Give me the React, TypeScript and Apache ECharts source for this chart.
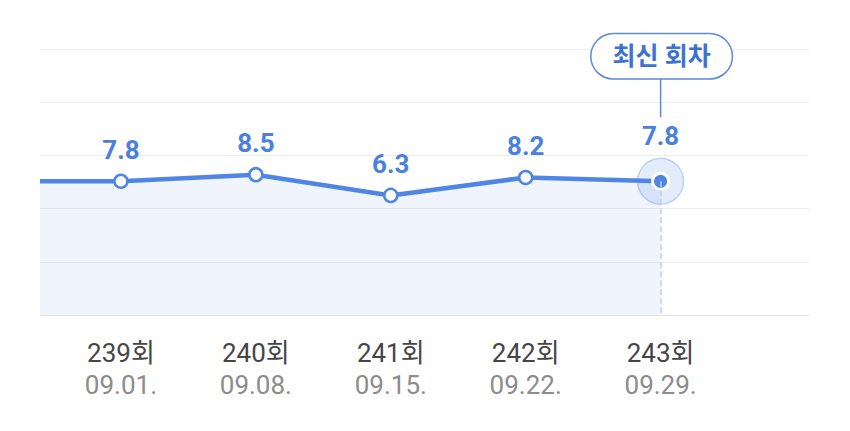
import React, { useEffect, useRef } from "react";
import * as echarts from "echarts";

const rounds = ["238회", "239회", "240회", "241회", "242회", "243회"];
const dates = ["08.25.", "09.01.", "09.08.", "09.15.", "09.22.", "09.29."];
const ratings = [7.8, 7.8, 8.5, 6.3, 8.2, 7.8];
const latestLabel = "최신 회차";

const BLUE = "#4f86e3";
const FONT = "Roboto, 'Noto Sans CJK KR', sans-serif";

export default function App() {
  const ref = useRef<HTMLDivElement>(null);
  useEffect(() => {
    if (!ref.current) return;
    const chart = echarts.init(ref.current, null, { renderer: "svg" });
    const lastIdx = ratings.length - 1;
    const xOf = (i: number) => i - 1;
    const data = ratings.map((v, i) => {
      const item: any = { value: [xOf(i), v] };
      if (i === lastIdx) {
        item.symbolSize = 16;
        item.itemStyle = { color: BLUE, borderColor: "#fff", borderWidth: 3 };
        item.label = { distance: 23 };
      }
      return item;
    });
    const labelValues = rounds.map((_, i) => xOf(i)).filter((v) => v >= 0);
    chart.setOption({
      animation: false,
      textStyle: { fontFamily: FONT },
      grid: { left: 40, right: 41, top: 49, bottom: 116 },
      graphic: [
        {
          type: "rect",
          left: 0,
          top: 0,
          shape: { width: 40, height: 330 },
          style: { fill: "#fff" },
          z: 100,
          silent: true,
        },
      ],
      xAxis: {
        type: "value",
        min: -0.6,
        max: 5.1,
        axisLine: { show: true, onZero: false, lineStyle: { color: "#e4e4e4", width: 1 } },
        axisTick: { show: false },
        splitLine: { show: false },
        axisLabel: {
          customValues: labelValues,
          margin: 22,
          formatter: (v: number) => `{r|${rounds[v + 1]}}\n{d|${dates[v + 1]}}`,
          rich: {
            r: { fontSize: 26, color: "#454545", lineHeight: 32, fontFamily: FONT },
            d: { fontSize: 26, color: "#8c8c8c", lineHeight: 32, fontFamily: FONT },
          },
        },
      },
      yAxis: [
        {
          type: "value",
          min: -6.4,
          max: 21.85,
          show: false,
          splitLine: { show: false },
        },
        {
          type: "value",
          min: 0,
          max: 5,
          interval: 1,
          axisLine: { show: false },
          axisTick: { show: false },
          axisLabel: { show: false },
          splitLine: { show: true, lineStyle: { color: "#eeeeee", width: 1 } },
        },
      ],
      series: [
        {
          type: "scatter",
          yAxisIndex: 0,
          data: [[xOf(lastIdx), ratings[lastIdx]]],
          symbolSize: 46,
          silent: true,
          itemStyle: {
            color: "rgba(80,134,228,0.2)",
            borderColor: "rgba(80,134,228,0.42)",
            borderWidth: 1.5,
          },
          z: 2,
        },
        {
          type: "line",
          yAxisIndex: 0,
          data,
          clip: true,
          symbol: "circle",
          symbolSize: 13,
          showAllSymbol: true,
          lineStyle: { color: BLUE, width: 4.5 },
          itemStyle: { color: "#fff", borderColor: BLUE, borderWidth: 2.5 },
          areaStyle: { origin: "start", color: "rgba(80,134,228,0.13)" },
          label: {
            show: true,
            position: "top",
            distance: 11,
            fontSize: 26,
            fontWeight: "bold",
            color: "#4a80de",
            fontFamily: FONT,
            formatter: (p: any) => p.value[1].toFixed(1),
          },
          markLine: {
            silent: true,
            symbol: "none",
            label: { show: false },
            lineStyle: { color: "#bcd0f0", type: "dashed", width: 1.5 },
            data: [
              [
                { coord: [xOf(lastIdx), ratings[lastIdx]] },
                { coord: [xOf(lastIdx), -6.4] },
              ],
            ],
          },
          markPoint: {
            silent: true,
            data: [
              {
                coord: [xOf(lastIdx), ratings[lastIdx]],
                symbol: "rect",
                symbolSize: [1.5, 39],
                symbolOffset: [0, -83.5],
                itemStyle: { color: "#5b8ad8" },
                label: { show: false },
              },
              {
                coord: [xOf(lastIdx), ratings[lastIdx]],
                symbol: "circle",
                symbolSize: 1,
                symbolOffset: [1, -125],
                itemStyle: { color: "rgba(0,0,0,0)" },
                label: {
                  show: true,
                  position: "inside",
                  formatter: latestLabel,
                  fontSize: 25,
                  fontWeight: "bold",
                  color: "#3f72cf",
                  fontFamily: FONT,
                  backgroundColor: "#fff",
                  borderColor: "#5b8ad8",
                  borderWidth: 1.5,
                  borderRadius: 22,
                  padding: [9, 21],
                  lineHeight: 26,
                },
              },
            ],
          },
          z: 3,
        },
      ],
    });
    return () => chart.dispose();
  }, []);
  return (
    <div
      ref={ref}
      style={{ position: "fixed", left: 0, top: 0, width: 850, height: 431, background: "#fff" }}
    />
  );
}
